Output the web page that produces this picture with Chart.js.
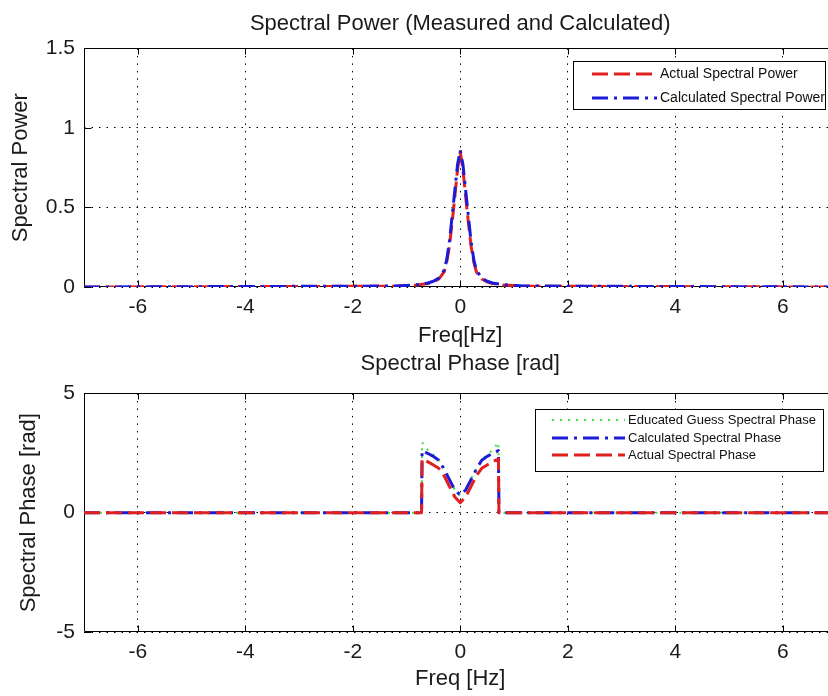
<!DOCTYPE html>
<html>
<head>
<meta charset="utf-8">
<script src="https://cdn.jsdelivr.net/npm/chart.js@4.4.1/dist/chart.umd.min.js"></script>
<style>
  html, body { margin: 0; padding: 0; background: #fff; overflow: hidden; }
  #page { position: relative; width: 828px; height: 696px; overflow: hidden; }
  canvas { position: absolute; left: 0; }
  #powerChart { top: 0; }
  #phaseChart { top: 350px; }
</style>
</head>
<body>
<div id="page">
  <canvas id="powerChart" width="840" height="350"></canvas>
  <canvas id="phaseChart" width="840" height="346"></canvas>
</div>
<script>
// tick positions
const xTicks = [-6, -4, -2, 0, 2, 4, 6];
const powerTicks = [0, 0.5, 1, 1.5];
const phaseTicks = [-5, 0, 5];

// spectral power, measured vs calculated
const powerFreq   = [-7, -1.2, -0.8, -0.6, -0.5, -0.4, -0.3, -0.25, -0.2, -0.15, -0.1, -0.05, 0, 0.05, 0.1, 0.15, 0.2, 0.25, 0.3, 0.4, 0.5, 0.6, 0.8, 1.2, 7];
const actualPower = [0, 0.005, 0.012, 0.022, 0.032, 0.05, 0.095, 0.16, 0.26, 0.41, 0.57, 0.74, 0.85, 0.74, 0.57, 0.41, 0.26, 0.16, 0.095, 0.05, 0.032, 0.022, 0.012, 0.005, 0];
const calcPower   = [0, 0.006, 0.014, 0.025, 0.036, 0.056, 0.105, 0.175, 0.29, 0.45, 0.61, 0.77, 0.86, 0.77, 0.61, 0.45, 0.29, 0.175, 0.105, 0.056, 0.036, 0.025, 0.014, 0.006, 0];

// spectral phase
const phaseFreq   = [-7, -0.72, -0.71, -0.6, -0.5, -0.4, -0.3, -0.2, -0.1, 0, 0.1, 0.2, 0.3, 0.4, 0.5, 0.6, 0.71, 0.72, 7];
const guessPhase  = [0, 0, 2.95, 2.62, 2.42, 2.22, 1.86, 1.42, 0.96, 0.7, 0.96, 1.42, 1.86, 2.22, 2.42, 2.62, 2.95, 0, 0];
const calcPhase   = [0, 0, 2.6, 2.48, 2.36, 2.2, 1.82, 1.38, 0.95, 0.74, 0.95, 1.38, 1.82, 2.2, 2.36, 2.48, 2.6, 0, 0];
const actualPhase = [0, 0, 2.25, 2.13, 2.0, 1.86, 1.55, 1.1, 0.66, 0.42, 0.66, 1.1, 1.55, 1.86, 2.0, 2.13, 2.25, 0, 0];

const RED = '#e0201e';
const BLUE = '#1c1cd8';
const GREEN = '#3fe03f';
const FONT = "'Liberation Sans', Arial, sans-serif";

Chart.defaults.font.family = FONT;
Chart.defaults.color = '#1a1a1a';

function points(xs, ys) {
    return xs.map((x, i) => ({ x: x, y: ys[i] }));
}

// solid box with inward tick marks
const axisFrame = {
    id: 'axisFrame',
    beforeDatasetsDraw(chart) {
        const { ctx, chartArea: a, scales } = chart;
        const l = Math.round(a.left) + 0.5, r = Math.round(a.right) + 0.5;
        const t = Math.round(a.top) + 0.5, b = Math.round(a.bottom) - 0.5;
        ctx.save();
        ctx.strokeStyle = '#000';
        ctx.lineWidth = 1;
        ctx.beginPath();
        ctx.rect(l, t, r - l, b - t);
        scales.x.ticks.forEach(tk => {
            const px = Math.round(scales.x.getPixelForValue(tk.value)) + 0.5;
            ctx.moveTo(px, b); ctx.lineTo(px, b - 6);
            ctx.moveTo(px, t); ctx.lineTo(px, t + 6);
        });
        scales.y.ticks.forEach(tk => {
            const py = Math.round(scales.y.getPixelForValue(tk.value)) + 0.5;
            ctx.moveTo(l, py); ctx.lineTo(l + 7, py);
            ctx.moveTo(r, py); ctx.lineTo(r - 7, py);
        });
        ctx.stroke();
        ctx.restore();
    }
};

// legend inside the plot, with a black border
const boxLegend = {
    id: 'boxLegend',
    afterDatasetsDraw(chart, args, opts) {
        const { ctx } = chart;
        const [x0, y0, x1, y1] = opts.box;
        ctx.save();
        ctx.fillStyle = '#fff';
        ctx.fillRect(x0, y0, x1 - x0, y1 - y0);
        ctx.strokeStyle = '#000';
        ctx.lineWidth = 1;
        ctx.strokeRect(x0 + 0.5, y0 + 0.5, x1 - x0, y1 - y0);
        ctx.font = opts.font;
        ctx.textBaseline = 'middle';
        chart.data.datasets.forEach((ds, i) => {
            const y = opts.rows[i];
            ctx.strokeStyle = ds.borderColor;
            ctx.lineWidth = ds.borderWidth;
            ctx.setLineDash(ds.borderDash || []);
            ctx.beginPath();
            ctx.moveTo(opts.sample[0], y);
            ctx.lineTo(opts.sample[1], y);
            ctx.stroke();
            ctx.setLineDash([]);
            ctx.fillStyle = '#111';
            ctx.fillText(ds.label, opts.textX, y);
        });
        ctx.restore();
    }
};

function makeOptions(o) {
    return {
        responsive: false,
        animation: false,
        events: [],
        layout: { padding: { left: 0, right: 3.5, top: 0, bottom: 0 } },
        scales: {
            x: {
                type: 'linear',
                min: -7,
                max: 7,
                afterBuildTicks: s => { s.ticks = xTicks.map(v => ({ value: v })); },
                afterFit: s => { s.height = o.xHeight; },
                grid: { color: '#000', lineWidth: 1, drawTicks: false },
                border: { display: false, dash: [1.5, 6] },
                ticks: { font: { size: 21 }, padding: 8, maxRotation: 0, autoSkip: false,
                         callback: v => String(v) },
                title: { display: true, text: o.xTitle, font: { size: 22 },
                         padding: { top: 0, bottom: o.xTitlePad } }
            },
            y: {
                min: o.yMin,
                max: o.yMax,
                afterBuildTicks: s => { s.ticks = o.yTicks.map(v => ({ value: v })); },
                afterFit: s => { s.width = 84; },
                grid: { color: '#000', lineWidth: 1, drawTicks: false },
                border: { display: false, dash: [1.5, 6] },
                ticks: { font: { size: 21 }, padding: 9, callback: v => String(v) },
                title: { display: true, text: o.yTitle, font: { size: 22 },
                         padding: { top: o.yTitlePad, bottom: 0 } }
            }
        },
        plugins: {
            legend: { display: false },
            tooltip: { enabled: false },
            title: {
                display: true,
                text: o.title,
                fullSize: false,
                color: '#1a1a1a',
                font: { size: 22, weight: 'normal' },
                padding: { top: o.titlePad[0], bottom: o.titlePad[1] }
            },
            boxLegend: o.legend
        }
    };
}

const lineStyle = { pointRadius: 0, fill: false, tension: 0, borderCapStyle: 'butt', borderJoinStyle: 'round' };

new Chart(document.getElementById('powerChart'), {
    type: 'line',
    data: {
        datasets: [
            Object.assign({
                label: 'Actual Spectral Power',
                data: points(powerFreq, actualPower),
                borderColor: RED, borderWidth: 3, borderDash: [16, 6], order: 2
            }, lineStyle),
            Object.assign({
                label: 'Calculated Spectral Power',
                data: points(powerFreq, calcPower),
                borderColor: BLUE, borderWidth: 3, borderDash: [16, 6, 3, 6], order: 1
            }, lineStyle)
        ]
    },
    options: makeOptions({
        title: 'Spectral Power (Measured and Calculated)',
        titlePad: [11, 11],
        xTitle: 'Freq[Hz]', xTitlePad: 1, xHeight: 63,
        yTitle: 'Spectral Power', yTitlePad: 8,
        yMin: 0, yMax: 1.5, yTicks: powerTicks,
        legend: { box: [573, 61, 825, 109], rows: [74, 98], sample: [592, 657], textX: 660,
                  font: "14px " + FONT }
    }),
    plugins: [axisFrame, boxLegend]
});

new Chart(document.getElementById('phaseChart'), {
    type: 'line',
    data: {
        datasets: [
            Object.assign({
                label: 'Educated Guess Spectral Phase',
                data: points(phaseFreq, guessPhase),
                borderColor: GREEN, borderWidth: 2, borderDash: [2, 6], order: 3
            }, lineStyle),
            Object.assign({
                label: 'Calculated Spectral Phase',
                data: points(phaseFreq, calcPhase),
                borderColor: BLUE, borderWidth: 3, borderDash: [16, 6, 3, 6], order: 2
            }, lineStyle),
            Object.assign({
                label: 'Actual Spectral Phase',
                data: points(phaseFreq, actualPhase),
                borderColor: RED, borderWidth: 3, borderDash: [16, 6], order: 1
            }, lineStyle)
        ]
    },
    options: makeOptions({
        title: 'Spectral Phase [rad]',
        titlePad: [1, 16],
        xTitle: 'Freq [Hz]', xTitlePad: 4, xHeight: 64,
        yTitle: 'Spectral Phase [rad]', yTitlePad: 16,
        yMin: -5, yMax: 5, yTicks: phaseTicks,
        legend: { box: [535, 59, 823, 121], rows: [70, 88, 105], sample: [552, 625], textX: 628,
                  font: "13px " + FONT }
    }),
    plugins: [axisFrame, boxLegend]
});
</script>
</body>
</html>
